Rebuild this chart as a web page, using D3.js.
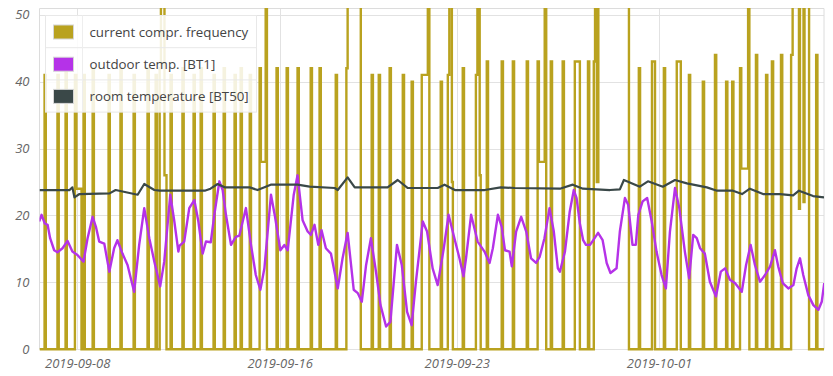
<!DOCTYPE html>
<html><head><meta charset="utf-8">
<script src="https://cdn.jsdelivr.net/npm/d3@7"></script>
<style>
html,body{margin:0;padding:0;background:#fff;}
svg{display:block;font-family:"Open Sans",sans-serif;}
</style></head><body>
<svg id="chart" width="833" height="376"></svg>
<script>
// ---- data (time given in days after 2019-09-08 00:00) ----
const xStartDay = -1.49, xEndDay = 29.52;
const yTicks = [0, 10, 20, 30, 40, 50];
const xTickLabels = ["2019-09-08", "2019-09-16", "2019-09-23", "2019-10-01"];
const seriesNames = ["current compr. frequency", "outdoor temp. [BT1]", "room temperature [BT50]"];
const seriesColors = ["#b9a21f", "#b532e8", "#3a4848"];

// compressor runs: [startDay, endDay, frequency]; frequency is 0 between runs
const compressorRuns = [
  [-1.29,-1.24,41],[-0.78,-0.73,41],[-0.46,-0.41,42],
  [-0.09,-0.03,41],[-0.03,0.17,24],
  [0.25,0.30,41],[0.61,0.66,42],[1.24,1.29,41],[1.71,1.76,42],[2.23,2.28,41],
  [2.78,2.83,42],[3.10,3.15,41],
  [3.26,3.31,42],[3.31,3.45,60],[3.45,3.53,26],
  [3.69,3.74,41],[4.16,4.21,42],[4.60,4.65,41],[4.88,4.93,42],[5.39,5.44,41],
  [5.79,5.84,42],[6.22,6.27,41],[6.46,6.51,42],[6.82,6.87,41],
  [7.21,7.26,42],[7.26,7.45,28],[7.45,7.50,60],
  [7.88,7.93,42],[8.28,8.33,42],[8.71,8.76,42],[9.23,9.28,42],[9.58,9.63,42],
  [10.22,10.27,41],
  [10.64,10.69,42],[10.69,11.21,60],
  [11.64,11.69,41],[11.92,11.97,41],[12.35,12.40,42],[12.87,12.92,41],[13.22,13.27,40],
  [13.62,13.86,41],[13.86,13.92,60],
  [14.37,14.42,40],
  [14.65,14.71,41],[14.71,14.81,60],[14.81,14.85,25],
  [15.24,15.29,42],
  [15.76,15.82,41],[15.82,15.91,60],[15.91,15.95,26],
  [16.19,16.24,43],[16.78,16.83,43],[17.22,17.27,43],[17.77,17.82,43],
  [18.20,18.25,43],[18.25,18.48,28],[18.48,18.54,60],
  [18.72,18.77,43],[19.19,19.24,43],[19.67,19.87,43],[20.19,20.24,43],
  [20.42,20.47,43],[20.47,20.54,60],[20.54,20.60,25],[20.60,21.81,60],
  [22.20,22.25,42],[22.72,22.84,43],[23.19,23.24,42],[23.70,23.86,43],
  [24.18,24.23,41],[24.73,24.78,40],[25.21,25.26,44],[25.65,25.70,40],[25.89,25.94,40],
  [26.20,26.25,42],[26.25,26.52,27],[26.52,26.57,60],
  [26.83,26.88,44],[27.23,27.28,41],[27.46,27.51,43],[27.82,27.87,44],
  [28.22,28.28,44],[28.28,28.53,60],[28.53,28.57,21],[28.57,28.71,60],[28.71,28.75,22],[28.75,28.93,60],
  [29.21,29.26,44]
];

// outdoor temperature [BT1]: [day, °C]
const outdoorTemp = [
  [-1.50,19.1],[-1.41,20.1],[-1.28,18.8],[-1.17,18.6],[-1.07,16.6],[-0.91,14.8],[-0.78,14.5],
  [-0.58,15.1],[-0.38,16.2],[-0.19,14.6],[0.01,14.1],[0.25,13.1],[0.41,16.6],[0.61,19.8],
  [0.74,18.3],[0.87,16.1],[1.07,15.8],[1.27,11.6],[1.46,15.1],[1.59,16.3],[1.79,14.3],
  [1.99,12.6],[2.25,8.6],[2.45,15.6],[2.65,21.1],[2.85,16.6],[3.05,13.1],[3.28,9.4],
  [3.44,13.1],[3.68,23.1],[3.84,19.1],[4.00,14.6],[4.05,15.5],[4.23,16.1],[4.43,21.1],
  [4.63,22.3],[4.79,19.1],[4.96,14.3],[5.09,16.1],[5.28,16.0],[5.42,20.1],[5.62,25.1],
  [5.75,23.8],[5.88,20.1],[6.08,15.6],[6.27,16.8],[6.41,17.0],[6.67,21.1],[6.87,15.6],
  [7.06,11.1],[7.24,8.9],[7.40,12.1],[7.66,23.1],[7.82,19.8],[8.03,14.8],[8.19,15.6],
  [8.32,14.8],[8.56,23.1],[8.71,26.0],[8.91,19.3],[9.11,17.6],[9.24,17.1],[9.38,18.6],
  [9.53,15.6],[9.66,17.8],[9.83,15.1],[10.03,14.3],[10.30,9.1],[10.49,13.6],[10.69,17.4],
  [10.93,8.9],[11.09,8.4],[11.25,7.1],[11.42,12.6],[11.61,16.6],[11.81,11.6],[11.99,6.6],
  [12.21,3.4],[12.38,4.1],[12.64,15.6],[12.83,12.6],[13.04,5.6],[13.22,3.6],[13.39,10.1],
  [13.66,19.1],[13.83,17.6],[14.05,12.1],[14.25,9.6],[14.49,15.1],[14.68,20.1],[14.91,16.6],
  [15.11,13.6],[15.27,10.9],[15.37,13.6],[15.57,20.1],[15.83,16.1],[16.10,14.6],[16.30,12.9],
  [16.43,15.1],[16.63,20.1],[16.78,18.3],[16.91,14.8],[17.09,14.6],[17.18,12.4],[17.35,17.6],
  [17.55,19.8],[17.75,17.6],[17.94,13.6],[18.14,12.9],[18.28,13.8],[18.47,16.6],[18.67,21.1],
  [18.84,17.6],[19.00,12.1],[19.08,11.6],[19.28,14.6],[19.47,20.6],[19.63,23.8],[19.74,22.6],
  [19.87,18.8],[20.00,16.3],[20.11,15.6],[20.27,15.6],[20.40,16.3],[20.59,17.4],[20.77,16.3],
  [20.93,12.9],[21.08,11.4],[21.32,12.1],[21.45,17.6],[21.65,22.6],[21.78,21.6],[21.95,15.6],
  [22.08,15.6],[22.18,20.1],[22.35,22.1],[22.53,22.6],[22.71,19.1],[22.90,14.6],[23.10,11.1],
  [23.27,9.1],[23.43,17.6],[23.63,24.1],[23.80,21.1],[24.02,14.6],[24.19,10.6],[24.35,17.1],
  [24.49,16.6],[24.62,15.1],[24.81,14.3],[25.01,10.1],[25.25,7.9],[25.44,11.6],[25.61,12.1],
  [25.80,10.4],[26.00,9.9],[26.27,8.6],[26.44,12.6],[26.62,15.6],[26.79,12.6],[26.99,10.1],
  [27.19,11.1],[27.39,12.4],[27.58,14.8],[27.71,12.4],[27.89,9.9],[28.11,9.1],[28.31,9.6],
  [28.44,12.1],[28.57,13.6],[28.70,11.1],[28.90,8.1],[29.10,6.6],[29.30,5.9],[29.43,7.1],
  [29.53,9.9]
];

// room temperature [BT50]: [day, °C]
const roomTemp = [
  [-1.49,23.8],[-0.30,23.8],[-0.22,24.1],[-0.19,24.2],[-0.11,22.7],[0.09,23.2],[1.28,23.3],
  [1.52,23.8],[2.39,23.1],[2.65,24.7],[3.05,23.8],[3.26,23.7],[5.04,23.7],[5.27,24.0],
  [5.55,24.7],[5.83,24.2],[6.82,24.2],[7.13,23.8],[7.65,24.6],[8.71,24.6],[9.19,24.3],
  [10.18,24.1],[10.30,23.8],[10.69,25.7],[10.97,24.2],[12.27,24.2],[12.67,25.3],[13.07,24.1],
  [14.25,24.1],[14.52,24.6],[14.93,23.8],[16.11,23.8],[16.74,24.2],[17.30,24.1],[19.08,24.0],
  [19.59,24.6],[19.99,24.0],[21.06,23.8],[21.45,23.9],[21.61,25.3],[22.24,24.3],[22.56,25.1],
  [23.15,24.3],[23.63,25.3],[24.10,24.8],[24.89,24.2],[25.29,23.7],[25.92,23.7],[26.28,23.2],
  [26.59,24.0],[27.11,23.2],[27.78,23.2],[28.30,23.0],[28.53,23.7],[29.09,22.9],[29.52,22.7]
];

// ---- chart ----
const svg = d3.select("#chart");
const base = new Date(2019, 8, 8).getTime();
const toDate = d => new Date(base + d * 864e5);
const parseDay = d3.timeParse("%Y-%m-%d");

const L = 39.5, R = 824, T = 8, B = 349.3;
const x = d3.scaleTime().domain([toDate(xStartDay), toDate(xEndDay)]).range([L, R]);
const y = d3.scaleLinear().domain([0, 51]).range([B, T]);

// grid
const grid = svg.append("g");
grid.selectAll("line.h").data(yTicks).join("line")
  .attr("x1", L).attr("x2", R).attr("y1", d => Math.round(y(d)) + 0.5).attr("y2", d => Math.round(y(d)) + 0.5)
  .attr("stroke", "#e2e2e2").attr("stroke-width", 1);
grid.selectAll("line.v").data(xTickLabels.map(parseDay)).join("line")
  .attr("x1", d => Math.round(x(d)) + 0.5).attr("x2", d => Math.round(x(d)) + 0.5).attr("y1", T).attr("y2", B)
  .attr("stroke", "#e2e2e2").attr("stroke-width", 1);
// frame
svg.append("path").attr("d", `M${L},${B}V${T + 0.5}H${R}V${B}`)
  .attr("fill", "none").attr("stroke", "#dcdcdc").attr("stroke-width", 1);

// axes (labels only)
const yAxis = svg.append("g").attr("transform", `translate(${L - 10},0)`)
  .call(d3.axisLeft(y).tickValues(yTicks).tickSize(0).tickPadding(0).tickFormat(d3.format("d")));
const xAxis = svg.append("g").attr("transform", `translate(0,${B + 5})`)
  .call(d3.axisBottom(x).tickValues(xTickLabels.map(parseDay)).tickSize(0).tickPadding(4)
    .tickFormat(d3.timeFormat("%Y-%m-%d")));
[yAxis, xAxis].forEach(a => {
  a.select(".domain").remove();
  a.selectAll("text").attr("font-family", "Open Sans").attr("font-style", "italic")
    .attr("font-size", 13).attr("fill", "#666");
});

// clip
svg.append("clipPath").attr("id", "plotclip").append("rect")
  .attr("x", L).attr("y", T).attr("width", R - L).attr("height", B - T + 4);
const plot = svg.append("g").attr("clip-path", "url(#plotclip)");

// compressor step series built from runs
const freqPts = [{ t: xStartDay, v: 0 }];
compressorRuns.forEach((r, i) => {
  freqPts.push({ t: r[0], v: r[2] });
  const next = compressorRuns[i + 1];
  if (!next || next[0] > r[1] + 1e-6) freqPts.push({ t: r[1], v: 0 });
});
freqPts.push({ t: xEndDay + 0.2, v: 0 });

const stepLine = d3.line().x(d => x(toDate(d.t))).y(d => y(d.v)).curve(d3.curveStepAfter);
plot.append("path").datum(freqPts).attr("d", stepLine)
  .attr("fill", "none").attr("stroke", seriesColors[0]).attr("stroke-width", 2.4)
  .attr("stroke-linejoin", "miter");

const line = d3.line().x(d => x(toDate(d[0]))).y(d => y(d[1])).curve(d3.curveLinear);
plot.append("path").datum(outdoorTemp).attr("d", line)
  .attr("fill", "none").attr("stroke", seriesColors[1]).attr("stroke-width", 2.4)
  .attr("stroke-linejoin", "round");
plot.append("path").datum(roomTemp).attr("d", line)
  .attr("fill", "none").attr("stroke", seriesColors[2]).attr("stroke-width", 2.2)
  .attr("stroke-linejoin", "round");

// legend
const lg = svg.append("g").attr("transform", "translate(45.5,15.5)");
const rowH = 32.2, lgW = 211;
lg.append("rect").attr("width", lgW).attr("height", rowH * 3)
  .attr("fill", "#fff").attr("fill-opacity", 0.86).attr("stroke", "#e8e8e8");
lg.selectAll("line.sep").data([1, 2]).join("line")
  .attr("x1", 0).attr("x2", lgW).attr("y1", d => d * rowH).attr("y2", d => d * rowH)
  .attr("stroke", "#e8e8e8");
lg.append("line").attr("x1", 37).attr("x2", 37).attr("y1", 0).attr("y2", rowH * 3).attr("stroke", "#eeeeee");
const rows = lg.selectAll("g.row").data(seriesNames).join("g")
  .attr("transform", (d, i) => `translate(0,${i * rowH})`);
rows.append("rect").attr("x", 8).attr("y", 9.5).attr("width", 20).attr("height", 14)
  .attr("fill", (d, i) => seriesColors[i]).attr("stroke", "#d6d6d6").attr("stroke-width", 1);
rows.append("text").attr("x", 44).attr("y", 21.5).text(d => d)
  .attr("font-family", "Open Sans").attr("font-size", 13.3).attr("fill", "#444");
</script>
</body></html>
